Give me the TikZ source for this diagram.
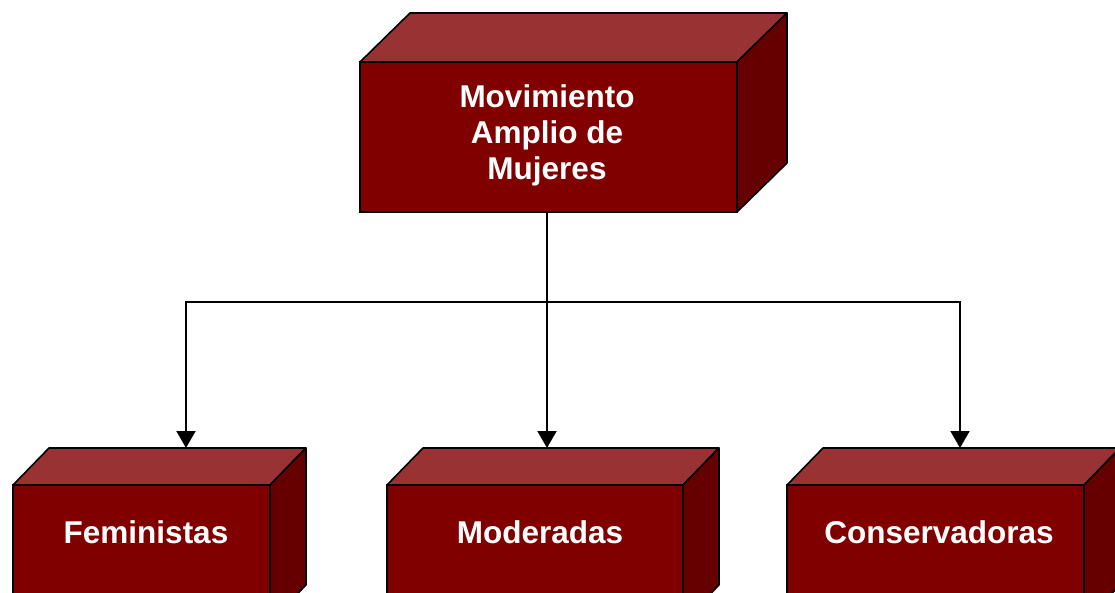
\documentclass[tikz,border=0pt]{standalone}
\usepackage{fontspec}
\setmainfont{Liberation Sans}
\usepackage{xcolor}
\usepackage{tikz}
\usetikzlibrary{arrows.meta}

\definecolor{frente}{HTML}{800000}
\definecolor{techo}{HTML}{993333}
\definecolor{lado}{HTML}{660000}

\begin{document}
\begin{tikzpicture}[x=1pt, y=1pt,
    front/.style={draw=black, line width=1.6pt, fill=frente, rectangle,
        inner sep=0pt, outer sep=0pt, anchor=north west},
    topface/.style={draw=black, line width=1.6pt, fill=techo, line join=round},
    sideface/.style={draw=black, line width=1.6pt, fill=lado, line join=round},
    label/.style={text=white, align=center, inner sep=0pt,
        font=\bfseries\fontsize{31.5}{36}\selectfont},
    stem/.style={line width=1.2pt},
    link/.style={line width=2pt, -{Triangle[width=19pt,length=17pt]}}]
    \useasboundingbox (0,0) rectangle (1115,592);

    % top box
    \node[front, minimum width=377pt, minimum height=150pt] (top) at (360,530) {};
    \draw[topface] (top.north west) -- ([shift={(50,49)}]top.north west)
        -- ([shift={(50,49)}]top.north east) -- (top.north east) -- cycle;
    \draw[sideface] (top.north east) -- ([shift={(50,49)}]top.north east)
        -- ([shift={(50,49)}]top.south east) -- (top.south east) -- cycle;
    \node[label] (top-txt) at (547,457) {Movimiento\\Amplio de\\Mujeres};

    % bottom boxes
    \node[front, minimum width=257pt, minimum height=137pt] (fem) at (13,107) {};
    \draw[topface] (fem.north west) -- ([shift={(36,37)}]fem.north west)
        -- ([shift={(36,37)}]fem.north east) -- (fem.north east) -- cycle;
    \draw[sideface] (fem.north east) -- ([shift={(36,37)}]fem.north east)
        -- ([shift={(36,37)}]fem.south east) -- (fem.south east) -- cycle;
    \node[label] (fem-txt) at (146,60) {Feministas};

    \node[front, minimum width=296pt, minimum height=137pt] (mod) at (387,107) {};
    \draw[topface] (mod.north west) -- ([shift={(36,37)}]mod.north west)
        -- ([shift={(36,37)}]mod.north east) -- (mod.north east) -- cycle;
    \draw[sideface] (mod.north east) -- ([shift={(36,37)}]mod.north east)
        -- ([shift={(36,37)}]mod.south east) -- (mod.south east) -- cycle;
    \node[label] (mod-txt) at (540,60) {Moderadas};

    \node[front, minimum width=297pt, minimum height=137pt] (con) at (787,107) {};
    \draw[topface] (con.north west) -- ([shift={(36,37)}]con.north west)
        -- ([shift={(36,37)}]con.north east) -- (con.north east) -- cycle;
    \draw[sideface] (con.north east) -- ([shift={(36,37)}]con.north east)
        -- ([shift={(36,37)}]con.south east) -- (con.south east) -- cycle;
    \node[label] (con-txt) at (939,60) {Conservadoras};

    % connectors
    \coordinate (hub) at (547,290);
    \coordinate (fem-in) at (186,144);
    \coordinate (mod-in) at (547,144);
    \coordinate (con-in) at (960,144);
    \draw[stem] (top.south -| hub) -- (hub);
    \draw[link] (hub) -- (mod-in);
    \draw[link] (hub) -| (fem-in);
    \draw[link] (hub) -| (con-in);
\end{tikzpicture}
\end{document}
